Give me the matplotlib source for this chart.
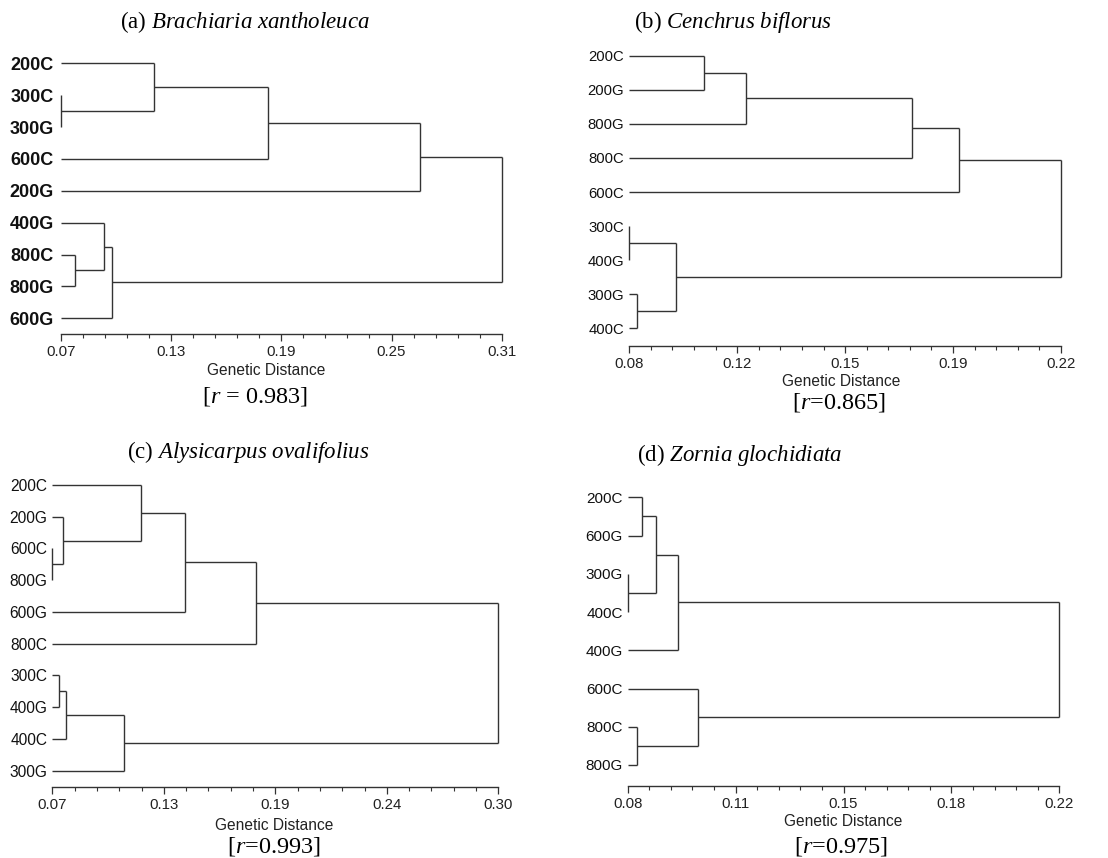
import numpy as np
import matplotlib
matplotlib.use("Agg")
import matplotlib.pyplot as plt

plt.rcParams['mathtext.fontset'] = 'custom'
plt.rcParams['mathtext.rm'] = 'Liberation Serif'
plt.rcParams['mathtext.it'] = 'Liberation Serif:italic'

W, H = 1108, 858

# ---------------- data ----------------
leaves_a = ['200C', '300C', '300G', '600C', '200G', '400G', '800C', '800G', '600G']
merges_a = [(1, 2, 0.0700), (0, 9, 0.1205), (10, 3, 0.1829), (11, 4, 0.2655),
            (6, 7, 0.0774), (5, 13, 0.0934), (14, 8, 0.0978), (12, 15, 0.3100)]
ticks_a = ['0.07', '0.13', '0.19', '0.25', '0.31']
range_a = (0.07, 0.31)

leaves_b = ['200C', '200G', '800G', '800C', '600C', '300C', '400G', '300G', '400C']
merges_b = [(0, 1, 0.1043), (9, 2, 0.1177), (10, 3, 0.1717), (11, 4, 0.1869),
            (5, 6, 0.0800), (7, 8, 0.0826), (13, 14, 0.0950), (12, 15, 0.2200)]
ticks_b = ['0.08', '0.12', '0.15', '0.19', '0.22']
range_b = (0.08, 0.22)

leaves_c = ['200C', '200G', '600C', '800G', '600G', '800C', '300C', '400G', '400C', '300G']
merges_c = [(2, 3, 0.0700), (1, 10, 0.0757), (0, 11, 0.1156), (12, 4, 0.1386),
            (13, 5, 0.1749), (6, 7, 0.0734), (15, 8, 0.0769), (16, 9, 0.1071),
            (14, 17, 0.3000)]
ticks_c = ['0.07', '0.13', '0.19', '0.24', '0.30']
range_c = (0.07, 0.30)

leaves_d = ['200C', '600G', '300G', '400C', '400G', '600C', '800C', '800G']
merges_d = [(0, 1, 0.0846), (2, 3, 0.0800), (8, 9, 0.0892), (10, 4, 0.0962),
            (6, 7, 0.0830), (5, 12, 0.1029), (11, 13, 0.2200)]
ticks_d = ['0.08', '0.11', '0.15', '0.18', '0.22']
range_d = (0.08, 0.22)

titles = ['(a) $\\mathit{Brachiaria\\ xantholeuca}$',
          '(b) $\\mathit{Cenchrus\\ biflorus}$',
          '(c) $\\mathit{Alysicarpus\\ ovalifolius}$',
          '(d) $\\mathit{Zornia\\ glochidiata}$']
r_labels = ['[$\\mathit{r}$ = 0.983]', '[$\\mathit{r}$=0.865]',
            '[$\\mathit{r}$=0.993]', '[$\\mathit{r}$=0.975]']
xlabel = 'Genetic Distance'

# ---------------- layout (pixels) ----------------
# x0, x1, first leaf y, last leaf y, axis y
boxes = [(61, 501.7, 63.3, 318.3, 334),
         (629.3, 1061, 55.7, 328.3, 346),
         (52.3, 498.3, 485, 770.7, 786.7),
         (627.7, 1059.3, 497.3, 765, 785.7)]
title_pos = [(245, 22), (733, 22), (248, 452), (740, 455)]
xlabel_pos = [(266, 371), (841, 382), (274, 825), (843, 821)]
r_pos = [(255, 397), (839, 402), (274, 846), (841, 847)]
leaf_font = [dict(size=13, weight='bold'), dict(size=10.7), dict(size=11.2), dict(size=11)]
leaf_pad = [5, 3.6, 3.6, 3.6]

fig = plt.figure(figsize=(W / 100, H / 100), dpi=100)
LC = '#333333'


def draw(ax, leaves, merges, rng):
    n = len(leaves)
    nodes = [(rng[0], float(i)) for i in range(n)]
    for a, b, h in merges:
        xa, ya = nodes[a]
        xb, yb = nodes[b]
        ax.plot([xa, h], [ya, ya], color=LC, lw=1.0, clip_on=False, solid_capstyle='butt')
        ax.plot([xb, h], [yb, yb], color=LC, lw=1.0, clip_on=False, solid_capstyle='butt')
        ax.plot([h, h], [ya, yb], color=LC, lw=1.0, clip_on=False, solid_capstyle='butt')
        nodes.append((h, (ya + yb) / 2))


panels = [(leaves_a, merges_a, ticks_a, range_a),
          (leaves_b, merges_b, ticks_b, range_b),
          (leaves_c, merges_c, ticks_c, range_c),
          (leaves_d, merges_d, ticks_d, range_d)]

for k, (leaves, merges, ticks, rng) in enumerate(panels):
    x0, x1, fy, ly, axy = boxes[k]
    n = len(leaves)
    sp = (ly - fy) / (n - 1)
    top = fy - 0.5 * sp
    ax = fig.add_axes([x0 / W, 1 - axy / H, (x1 - x0) / W, (axy - top) / H])
    draw(ax, leaves, merges, rng)
    ax.set_xlim(*rng)
    ax.set_ylim((n - 1) + (axy - ly) / sp, -0.5)
    for s in ['top', 'right', 'left']:
        ax.spines[s].set_visible(False)
    ax.spines['bottom'].set_color('#333333')
    ax.spines['bottom'].set_linewidth(1.0)
    ax.set_xticks(np.linspace(rng[0], rng[1], 5))
    ax.set_xticklabels(ticks, fontfamily='Liberation Sans', fontsize=10.8, color='#222222')
    ax.set_xticks(np.linspace(rng[0], rng[1], 21), minor=True)
    ax.tick_params(axis='x', which='major', length=5, width=0.9, color='#333333', pad=3)
    ax.tick_params(axis='x', which='minor', length=3, width=0.8, color='#333333')
    ax.set_yticks(range(n))
    ax.set_yticklabels(leaves, fontfamily='Liberation Sans', color='#111111', **leaf_font[k])
    ax.tick_params(axis='y', length=0, pad=leaf_pad[k])
    ax.patch.set_alpha(0)

    tx, ty = title_pos[k]
    fig.text(tx / W, 1 - ty / H, titles[k], ha='center', va='center',
             fontfamily='Liberation Serif', fontsize=16.5)
    gx, gy = xlabel_pos[k]
    fig.text(gx / W, 1 - gy / H, xlabel, ha='center', va='center',
             fontfamily='Liberation Sans', fontsize=11.2, color='#222222')
    rx, ry = r_pos[k]
    fig.text(rx / W, 1 - ry / H, r_labels[k], ha='center', va='center',
             fontfamily='Liberation Serif', fontsize=17.5)

fig.savefig('out.png', dpi=100)
